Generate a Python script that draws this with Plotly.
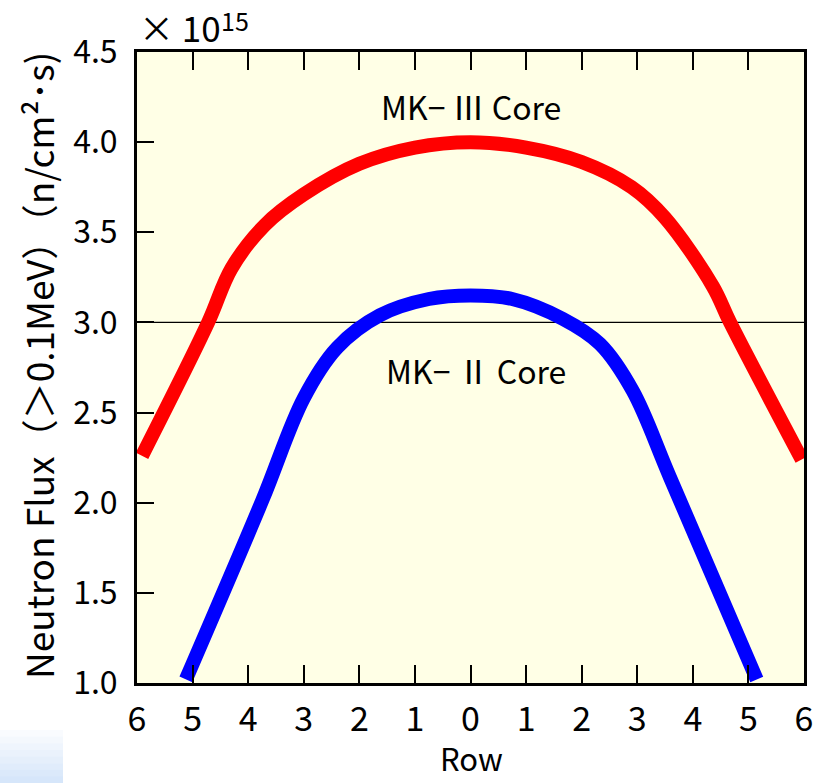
import plotly.graph_objects as go

# ---- data ----
row_ticks = [-6, -5, -4, -3, -2, -1, 0, 1, 2, 3, 4, 5, 6]
row_labels = ["6", "5", "4", "3", "2", "1", "0", "1", "2", "3", "4", "5", "6"]
flux_ticks = [1.0, 1.5, 2.0, 2.5, 3.0, 3.5, 4.0, 4.5]

mk3_x = [-5.91, -4.72, -4.30, -3.70, -3.00, -2.00, -1.00, 0.0, 1.00, 2.00, 2.90, 3.50, 4.36, 4.67, 5.96]
mk3_y = [2.26, 3.00, 3.30, 3.54, 3.71, 3.88, 3.97, 4.00, 3.97, 3.89, 3.75, 3.58, 3.20, 3.00, 2.24]

mk2_x = [-5.12, -3.75, -3.00, -2.40, -1.63, -0.75, 0.0, 0.75, 1.66, 2.33, 2.92, 3.59, 5.15]
mk2_y = [1.02, 2.01, 2.58, 2.86, 3.04, 3.13, 3.15, 3.13, 3.02, 2.88, 2.62, 2.14, 1.02]

ref_level = 3.0
x_range = [-6, 6]
y_range = [1.0, 4.5]

W, H = 825, 783
L, R, T, B = 137, 21, 52, 100
pw, ph = W - L - R, H - T - B

def px(x):
    return (x - L) / pw

def py(y):
    return (H - B - y) / ph

CJK = "Noto Sans CJK JP, Noto Sans, sans-serif"

fig = go.Figure()
fig.add_trace(go.Scatter(x=mk3_x, y=mk3_y, mode="lines",
                         line=dict(color="#FF0000", width=14, shape="spline", smoothing=1.0),
                         showlegend=False, hoverinfo="skip"))
fig.add_trace(go.Scatter(x=mk2_x, y=mk2_y, mode="lines",
                         line=dict(color="#0000FF", width=14, shape="spline", smoothing=1.0),
                         showlegend=False, hoverinfo="skip"))

shapes = [
    # plot-area background, drawn under everything
    dict(type="rect", xref="paper", yref="paper", x0=0, x1=1, y0=0, y1=1,
         fillcolor="#FFFFE6", line=dict(width=0), layer="below"),
]
# light blue gradient block in bottom-left corner
steps = 8
for i in range(steps):
    y0 = 730 + i * (53 / steps)
    y1 = y0 + 53 / steps + 0.5
    t = (i + 1) / steps
    r = int(255 - t * (255 - 214))
    g = int(255 - t * (255 - 230))
    b = int(255 - t * (255 - 250))
    shapes.append(dict(type="rect", xref="paper", yref="paper",
                       x0=px(0), x1=px(63), y0=py(y1), y1=py(y0),
                       fillcolor=f"rgb({r},{g},{b})", line=dict(width=0), layer="below"))
fig.update_layout(shapes=shapes)
fig.add_hline(y=ref_level, line=dict(color="black", width=1.3), layer="below")

fig.update_layout(
    template="none",
    width=W, height=H,
    margin=dict(l=L, r=R, t=T, b=B, autoexpand=False),
    paper_bgcolor="white",
    plot_bgcolor="rgba(0,0,0,0)",
    xaxis=dict(range=x_range, tickmode="array", tickvals=row_ticks, ticktext=row_labels,
               ticks="inside", ticklen=18, tickwidth=1.5, tickcolor="black",
               showline=True, linecolor="black", linewidth=3, mirror="ticks",
               showgrid=False, zeroline=False, automargin=False,
               ticklabelstandoff=4,
               tickfont=dict(family=CJK, size=34, color="black")),
    yaxis=dict(range=y_range, tickmode="array", tickvals=flux_ticks,
               ticktext=[f"{v:.1f}" for v in flux_ticks],
               ticks="inside", ticklen=17, tickwidth=1.5, tickcolor="black",
               showline=True, linecolor="black", linewidth=3, mirror=True,
               showgrid=False, zeroline=False, automargin=False,
               ticklabelstandoff=10,
               tickfont=dict(family=CJK, size=32, color="black")),
    annotations=[
        dict(text="Neutron Flux（＞0.1MeV）（n/cm²･s)", textangle=-90,
             xref="paper", yref="paper", x=px(38), y=py(366),
             xanchor="center", yanchor="middle", showarrow=False,
             font=dict(family=CJK, size=37, color="black")),
        dict(text="Row", xref="paper", yref="paper", x=px(471), y=py(782),
             xanchor="center", yanchor="bottom", showarrow=False,
             font=dict(family=CJK, size=31, color="black")),
        dict(text="× 10", xref="paper", yref="paper",
             x=px(137), y=py(54),
             xanchor="left", yanchor="bottom", showarrow=False,
             font=dict(family=CJK, size=35, color="black")),
        dict(text="15", xref="paper", yref="paper",
             x=px(219), y=py(20),
             xanchor="left", yanchor="middle", showarrow=False,
             font=dict(family=CJK, size=25, color="black")),
        dict(text="MK− Ⅲ Core", xref="x", yref="paper", x=0, y=py(106),
             xanchor="center", yanchor="middle", showarrow=False,
             font=dict(family=CJK, size=32, color="black")),
        dict(text="MK− Ⅱ Core", xref="x", yref="paper", x=0.1, y=py(370),
             xanchor="center", yanchor="middle", showarrow=False,
             font=dict(family=CJK, size=32, color="black")),
    ],
)

fig.write_html("out.html")
